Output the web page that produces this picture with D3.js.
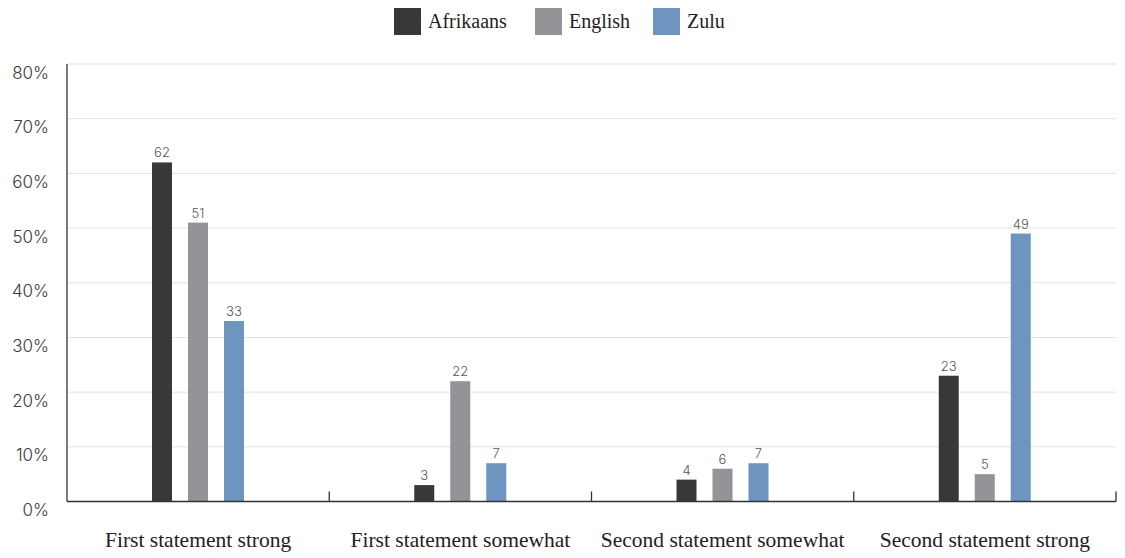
<!DOCTYPE html>
<html><head><meta charset="utf-8">
<script src="https://cdn.jsdelivr.net/npm/d3@7"></script>
<style>body{margin:0;background:#fff;}svg{display:block;}</style>
</head><body>
<svg id="chart" width="1125" height="558"></svg>
<script>
const categories = ["First statement strong", "First statement somewhat", "Second statement somewhat", "Second statement strong"];
const seriesNames = ["Afrikaans", "English", "Zulu"];
const afrikaans = [62, 3, 4, 23];
const english = [51, 22, 6, 5];
const zulu = [33, 7, 7, 49];
const colors = ["#383838", "#949397", "#6e95c0"];
const yTicks = [0, 10, 20, 30, 40, 50, 60, 70, 80];

const seriesValues = [afrikaans, english, zulu];
const svg = d3.select("#chart");
const m = {left: 67, right: 1116, top: 64, bottom: 501.5};

const x0 = d3.scaleBand().domain(categories).range([m.left, m.right]).padding(0);
const x1 = d3.scaleBand().domain(seriesNames).range([85, 177]).paddingInner(16 / 36).paddingOuter(0);
const y = d3.scaleLinear().domain([0, 80]).range([m.bottom, m.top]);

// gridlines
svg.append("g").selectAll("line").data(yTicks.filter(d => d > 0)).join("line")
  .attr("x1", m.left).attr("x2", m.right)
  .attr("y1", d => y(d)).attr("y2", d => y(d))
  .attr("stroke", "#e2e2e2").attr("stroke-width", 1);

// y labels
svg.append("g").selectAll("text").data(yTicks).join("text")
  .attr("x", 49).attr("y", d => y(d) + 10)
  .attr("text-anchor", "end").attr("dominant-baseline", "middle")
  .attr("font-family", "Inter, 'Noto Sans', sans-serif").attr("font-size", 17).attr("font-weight", 300)
  .attr("fill", "#3a3a3a").text(d => d + "%");

// bars
const groups = svg.append("g").selectAll("g").data(categories).join("g")
  .attr("transform", c => `translate(${x0(c)},0)`);
groups.selectAll("rect").data((c, i) => seriesNames.map((s, j) => ({s, j, v: seriesValues[j][i]}))).join("rect")
  .attr("x", d => x1(d.s)).attr("width", x1.bandwidth())
  .attr("y", d => y(d.v)).attr("height", d => y(0) - y(d.v))
  .attr("fill", d => colors[d.j]);
groups.selectAll("text").data((c, i) => seriesNames.map((s, j) => ({s, j, v: seriesValues[j][i]}))).join("text")
  .attr("x", d => x1(d.s) + x1.bandwidth() / 2).attr("y", d => y(d.v) - 5)
  .attr("text-anchor", "middle")
  .attr("font-family", "Inter, 'Noto Sans', sans-serif").attr("font-size", 13).attr("font-weight", 300)
  .attr("fill", "#555").text(d => d.v);

// axes
svg.append("line").attr("x1", m.left).attr("x2", m.left).attr("y1", m.top).attr("y2", m.bottom)
  .attr("stroke", "#333").attr("stroke-width", 1.3);
svg.append("line").attr("x1", m.left).attr("x2", m.right).attr("y1", m.bottom).attr("y2", m.bottom)
  .attr("stroke", "#333").attr("stroke-width", 1.3);
const bounds = categories.map(c => x0(c) + x0.bandwidth());
svg.append("g").selectAll("line").data(bounds).join("line")
  .attr("x1", d => d).attr("x2", d => d).attr("y1", m.bottom - 10).attr("y2", m.bottom)
  .attr("stroke", "#333").attr("stroke-width", 1.3);

// category labels
svg.append("g").selectAll("text").data(categories).join("text")
  .attr("x", c => x0(c) + x0.bandwidth() / 2).attr("y", 547)
  .attr("text-anchor", "middle")
  .attr("font-family", "'Liberation Serif', 'DejaVu Serif', serif").attr("font-size", 21.5)
  .attr("fill", "#222").text(c => c);

// legend
const legendX = [394, 535, 653];
const lg = svg.append("g").selectAll("g").data(seriesNames).join("g")
  .attr("transform", (s, i) => `translate(${legendX[i]},8)`);
lg.append("rect").attr("width", 27).attr("height", 27).attr("fill", (s, i) => colors[i]);
lg.append("text").attr("x", 34).attr("y", 20)
  .attr("font-family", "'Liberation Serif', 'DejaVu Serif', serif").attr("font-size", 20)
  .attr("fill", "#222").text(s => s);
</script>
</body></html>
